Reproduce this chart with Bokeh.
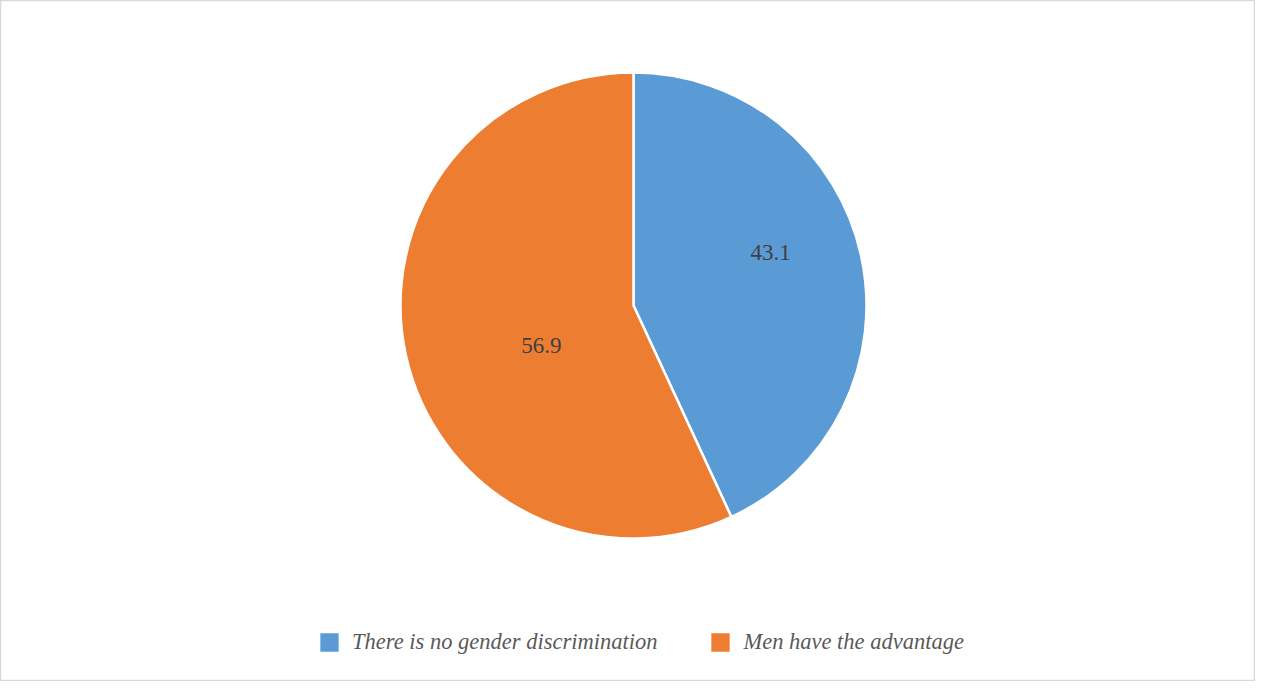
import numpy as np
from bokeh.plotting import figure
from bokeh.models import ColumnDataSource, Range1d, Legend, LegendItem
from bokeh.core.properties import value
from bokeh.embed import file_html
from bokeh.resources import INLINE

categories = ["There is no gender discrimination", "Men have the advantage"]
values = [43.1, 56.9]
labels = ["43.1", "56.9"]
colors = ["#5b9bd5", "#ed7d31"]

W, H = 1255, 681
p = figure(width=W, height=H, output_backend="svg", toolbar_location=None,
           x_range=Range1d(0, W), y_range=Range1d(0, H), min_border=0)
p.axis.visible = False
p.grid.visible = False
p.outline_line_color = "#d9d9d9"
p.outline_line_width = 1.5
p.background_fill_color = "white"
p.border_fill_color = "white"

cx, cy, R = 633, H - 305, 233
vals = np.array(values)
frac = vals / vals.sum()
cum = np.concatenate([[0], np.cumsum(frac)])
start = np.pi / 2 - cum[:-1] * 2 * np.pi
end = np.pi / 2 - cum[1:] * 2 * np.pi
mid = (start + end) / 2

src = ColumnDataSource(dict(start=start, end=end, color=colors, cat=categories))
r = p.wedge(x=cx, y=cy, radius=R, start_angle="start", end_angle="end",
            direction="clock", fill_color="color", line_color="white",
            line_width=2.5, source=src)

# label placement (Excel-like best fit)
lab_ang = mid + np.array([0.15, 0.19])
lab_rad = np.array([0.63, 0.43]) * R
lx = cx + lab_rad * np.cos(lab_ang)
ly = cy + lab_rad * np.sin(lab_ang)
p.text(x=lx, y=ly, text=labels, text_align="center", text_baseline="middle",
       text_font=value("Liberation Serif"), text_font_size="23px",
       text_color="#404040")

legend = Legend(items=[LegendItem(label=c, renderers=[r], index=i)
                       for i, c in enumerate(categories)],
                orientation="horizontal", location=(316, 26),
                padding=0, margin=0, spacing=50, label_standoff=10,
                glyph_width=26, glyph_height=26,
                label_text_font="Liberation Serif", label_text_font_style="italic",
                label_text_font_size="22.5px", label_text_color="#595959",
                border_line_color=None, background_fill_alpha=0)
p.add_layout(legend, "center")

open("out.html", "w").write(file_html(p, INLINE))
